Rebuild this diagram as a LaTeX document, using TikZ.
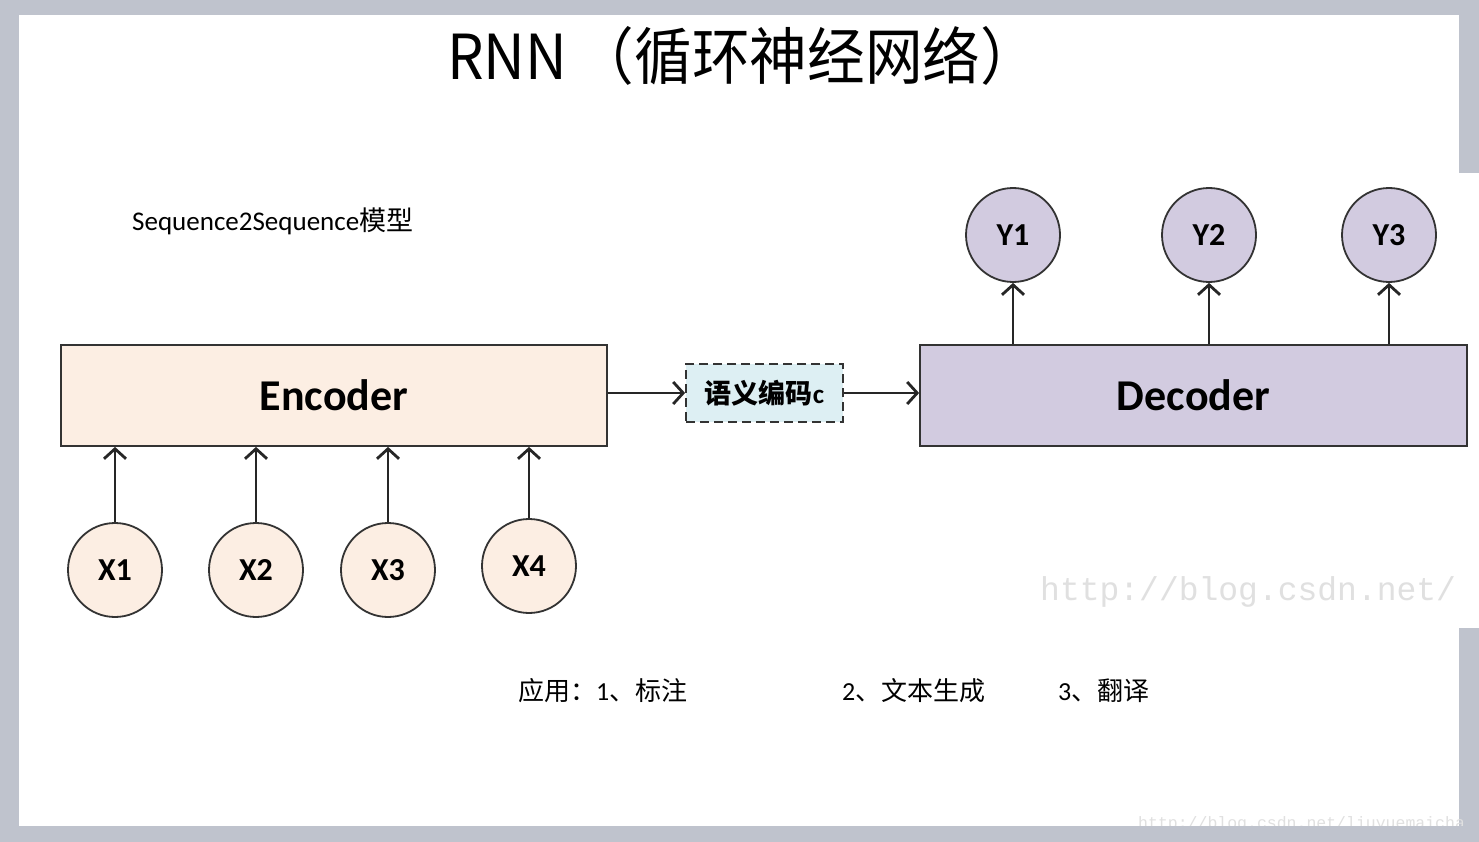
\documentclass[tikz,border=0pt]{standalone}
\usepackage{fontspec}
\setmainfont{Carlito}
\newfontfamily\cjk{Noto Sans CJK SC}
\newfontfamily\wm{Liberation Mono}
\usetikzlibrary{arrows.meta}
\definecolor{frame}{HTML}{BFC3CD}
\definecolor{peach}{HTML}{FCEEE3}
\definecolor{lav}{HTML}{D2CBE0}
\definecolor{cyanbox}{HTML}{DDEFF3}
\definecolor{edge}{HTML}{333333}
\definecolor{wmark}{HTML}{E0E0E0}
\tikzset{
  block/.style={draw=edge, line width=1.8pt, inner sep=0pt, font=\fontsize{44}{48}\selectfont\bfseries},
  unit/.style={circle, draw=edge, line width=1.8pt, minimum size=94pt, inner sep=0pt, font=\fontsize{32}{36}\selectfont\bfseries},
  conn/.style={line width=2.8pt, draw=black!85, -{Straight Barb[length=10pt,width=22pt]}},
  plain/.style={inner sep=0pt, anchor=base west},
}
\begin{document}
\begin{tikzpicture}[x=1pt,y=-1pt]
\useasboundingbox (0,0) rectangle (1479,842);
\fill[frame] (0,0) rectangle (1479,842);
\fill[white] (19,15) rectangle (1459,826);
\fill[white] (1459,173) rectangle (1479,628);

% title
\node[inner sep=0pt, anchor=base west] (title) at (447,80)
  {\scalebox{0.93}[1]{\cjk\fontsize{62}{66}\selectfont RNN\,（循环神经网络）}};

\node[plain] (s2s) at (132,231) {\fontsize{27}{30}\selectfont Sequence2Sequence{\cjk 模型}};

% blocks
\node[block, fill=peach, minimum width=546pt, minimum height=101pt] (enc) at (334,395.5) {Encoder};
\node[block, fill=lav, minimum width=547pt, minimum height=101pt] (dec) at (1193.5,395.5) {Decoder};
\node[draw=edge, dashed, dash pattern=on 9pt off 5pt, line width=1.8pt, fill=cyanbox, minimum width=157pt, minimum height=58pt, inner sep=0pt,
  font=\fontsize{27}{30}\selectfont\bfseries] (sem) at (764.5,393) {{\cjk\bfseries 语义编码}c};

% inputs
\node[unit, fill=peach] (x1) at (115,570) {X1};
\node[unit, fill=peach] (x2) at (256,570) {X2};
\node[unit, fill=peach] (x3) at (388,570) {X3};
\node[unit, fill=peach] (x4) at (529,566) {X4};

% outputs
\node[unit, fill=lav] (y1) at (1013,235) {Y1};
\node[unit, fill=lav] (y2) at (1209,235) {Y2};
\node[unit, fill=lav] (y3) at (1389,235) {Y3};

% connectors
\foreach \n in {x1,x2,x3,x4}
  \draw[conn] (\n.north) -- (\n.north |- enc.south);
\foreach \n in {y1,y2,y3}
  \draw[conn] (\n.south |- dec.north) -- (\n.south);
\draw[conn] (enc.east |- sem.west) -- (sem.west);
\draw[conn] (sem.east) -- (dec.west |- sem.east);

% applications
\node[plain] (app1) at (518,700) {\fontsize{26}{30}\selectfont{\cjk 应用：}1{\cjk 、标注}};
\node[plain] (app2) at (842,700) {\fontsize{26}{30}\selectfont 2{\cjk 、文本生成}};
\node[plain] (app3) at (1058,700) {\fontsize{26}{30}\selectfont 3{\cjk 、翻译}};

% watermarks
\node[plain, text=wmark] (wm1) at (1040,600) {\wm\fontsize{33}{36}\selectfont http://blog.csdn.net/};
\node[plain, text=wmark] (wm2) at (1138,828) {\wm\fontsize{16.5}{18}\selectfont http://blog.csdn.net/liuyuemaicha};
\fill[frame] (0,826) rectangle (1479,842);
\end{tikzpicture}
\end{document}
